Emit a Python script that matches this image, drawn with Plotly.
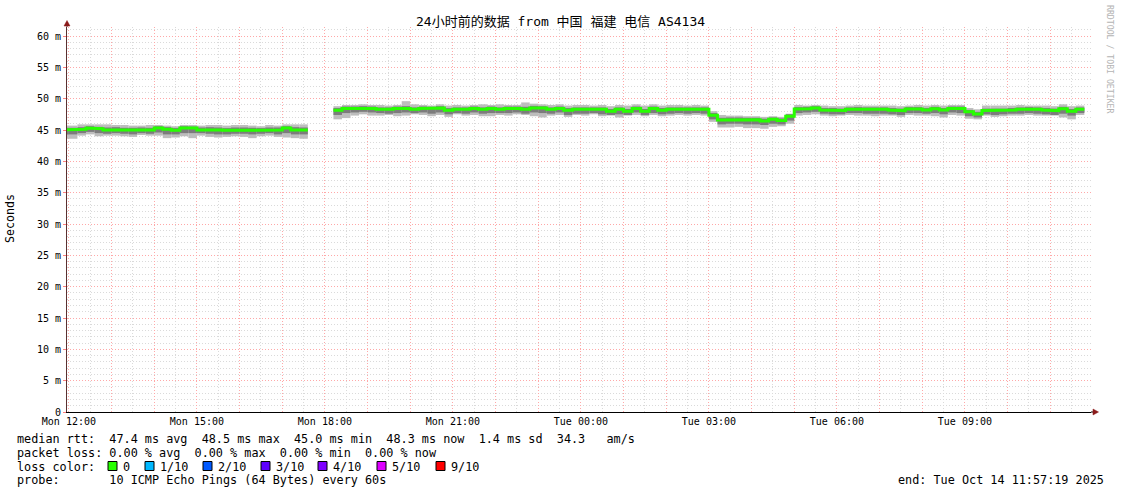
import plotly.graph_objects as go
from datetime import datetime, timedelta

# ---------------- data ----------------
title_text = "24小时前的数据 from 中国 福建 电信 AS4134"
range_start = "2025-10-13 11:57:19"
range_end = "2025-10-14 11:57:19"
first_step = "2025-10-13 11:48:00"
step_minutes = 12
N = None

# median RTT per 12-minute step (ms); first step starts Mon 11:48
median_rtt = [
    45.0,
    45.0, 45.1, 45.3, 45.2, 45.0, 45.1, 45.0, 45.0, 45.0, 45.0,
    45.3, 45.1, 44.95, 45.3, 45.3, 45.0, 45.1, 45.0, 44.95, 45.0,
    45.0, 45.0, 44.95, 45.0, 45.0, 45.3, 45.0, 45.0,
    N, N, N,
    48.15, 48.45, 48.45, 48.5, 48.45, 48.3, 48.3, 48.45, 48.45, 48.3,
    48.45, 48.45, 48.5, 48.15, 48.3, 48.3, 48.45, 48.3, 48.45, 48.3,
    48.45, 48.45, 48.3, 48.5, 48.5, 48.3, 48.45, 48.15, 48.3, 48.3,
    48.3, 48.3, 48.0, 48.3, 48.0, 48.45, 48.0, 48.45, 48.15, 48.3,
    48.3, 48.3, 48.3, 48.3,
    47.35, 46.6, 46.7, 46.7, 46.65, 46.65, 46.45, 46.7, 46.5, 47.2,
    48.35, 48.4, 48.5, 48.2, 48.2, 48.1, 48.3, 48.35, 48.3, 48.3,
    48.3, 48.2, 48.1, 48.35, 48.35, 48.2, 48.4, 48.2, 48.45, 48.45,
    47.9, 47.55, 48.1, 48.1, 48.1, 48.2, 48.3, 48.35, 48.3, 48.2,
    48.1, 48.4, 48.0, 48.3,
    N,
]

# outer smoke (slowest / fastest ping) per step
smoke_hi = [
    45.7,
    45.7, 45.9, 45.9, 45.9, 45.9, 45.8, 45.8, 45.7, 45.7, 45.8,
    45.8, 45.7, 45.6, 45.8, 45.8, 45.7, 45.8, 45.8, 45.7, 45.8,
    45.8, 45.7, 45.6, 45.8, 45.7, 45.9, 45.9, 45.9,
    N, N, N,
    48.8, 49.0, 49.0, 49.1, 49.0, 49.0, 48.9, 49.0, 49.6, 49.1,
    49.0, 48.9, 49.1, 48.9, 49.0, 48.9, 49.0, 49.1, 49.0, 49.1,
    49.0, 49.0, 49.4, 49.2, 49.1, 49.0, 49.1, 48.9, 49.0, 49.0,
    48.9, 49.0, 48.8, 49.0, 48.9, 49.1, 48.9, 49.1, 48.9, 49.0,
    49.0, 48.9, 49.0, 48.9,
    48.0, 47.4, 47.3, 47.3, 47.2, 47.2, 47.1, 47.2, 47.1, 47.6,
    49.0, 48.9, 49.0, 48.9, 48.8, 48.8, 48.9, 49.0, 48.9, 48.9,
    48.9, 48.9, 48.8, 48.9, 49.0, 48.9, 49.0, 48.9, 49.0, 49.0,
    48.5, 48.3, 48.9, 48.9, 48.9, 48.9, 49.0, 48.9, 48.9, 48.9,
    48.8, 49.1, 48.8, 48.9,
    N,
]
smoke_lo = [
    43.6,
    43.6, 44.1, 44.3, 44.0, 44.1, 44.1, 44.0, 43.9, 44.2, 44.1,
    44.1, 43.7, 43.8, 44.0, 43.7, 44.1, 43.9, 43.8, 43.9, 44.0,
    43.9, 43.7, 44.0, 44.1, 43.9, 43.8, 43.7, 43.6,
    N, N, N,
    46.7, 46.9, 47.3, 47.5, 47.3, 47.3, 47.4, 47.2, 47.3, 47.5,
    47.4, 47.2, 47.4, 47.1, 47.5, 47.3, 47.4, 47.2, 47.2, 47.4,
    47.3, 47.5, 47.4, 47.2, 47.0, 47.3, 47.4, 47.1, 47.4, 47.3,
    47.5, 47.2, 47.3, 47.0, 47.3, 47.4, 47.2, 47.4, 47.2, 47.3,
    47.4, 47.3, 47.4, 47.3,
    46.3, 45.4, 45.4, 45.5, 45.3, 45.3, 45.2, 45.5, 45.6, 46.0,
    47.3, 47.4, 47.5, 47.3, 47.2, 47.3, 47.4, 47.3, 47.3, 47.2,
    47.3, 47.3, 47.1, 47.4, 47.3, 47.3, 47.2, 47.0, 47.4, 47.3,
    46.8, 46.7, 47.3, 47.1, 47.2, 47.3, 47.3, 47.4, 47.3, 47.3,
    47.3, 47.0, 46.7, 47.4,
    N,
]
# inner smoke (middle pings) per step
mid_hi = [
    45.35,
    45.35, 45.45, 45.6, 45.5, 45.4, 45.45, 45.35, 45.35, 45.4, 45.35,
    45.6, 45.45, 45.3, 45.6, 45.55, 45.4, 45.45, 45.4, 45.3, 45.4,
    45.4, 45.35, 45.3, 45.4, 45.4, 45.6, 45.45, 45.4,
    N, N, N,
    48.5, 48.75, 48.75, 48.8, 48.75, 48.6, 48.6, 48.75, 48.8, 48.6,
    48.75, 48.7, 48.8, 48.5, 48.6, 48.6, 48.75, 48.6, 48.75, 48.6,
    48.75, 48.75, 48.7, 48.85, 48.8, 48.6, 48.75, 48.5, 48.6, 48.6,
    48.6, 48.6, 48.35, 48.6, 48.35, 48.75, 48.35, 48.75, 48.5, 48.6,
    48.6, 48.6, 48.6, 48.6,
    47.7, 46.95, 47.0, 47.0, 46.95, 46.95, 46.8, 47.0, 46.85, 47.5,
    48.65, 48.7, 48.8, 48.5, 48.5, 48.4, 48.6, 48.65, 48.6, 48.6,
    48.6, 48.5, 48.4, 48.65, 48.65, 48.5, 48.7, 48.5, 48.75, 48.75,
    48.2, 47.9, 48.4, 48.4, 48.4, 48.5, 48.6, 48.65, 48.6, 48.5,
    48.4, 48.7, 48.35, 48.6,
    N,
]
mid_lo = [
    44.3,
    44.3, 44.5, 44.7, 44.5, 44.4, 44.5, 44.4, 44.3, 44.5, 44.4,
    44.6, 44.3, 44.3, 44.5, 44.5, 44.5, 44.4, 44.3, 44.3, 44.4,
    44.4, 44.3, 44.4, 44.5, 44.3, 44.5, 44.3, 44.3,
    N, N, N,
    47.4, 47.7, 47.8, 47.9, 47.8, 47.7, 47.6, 47.7, 47.8, 47.7,
    47.8, 47.6, 47.8, 47.5, 47.7, 47.6, 47.8, 47.6, 47.7, 47.7,
    47.7, 47.8, 47.6, 47.8, 47.7, 47.6, 47.8, 47.4, 47.6, 47.6,
    47.7, 47.5, 47.4, 47.5, 47.4, 47.8, 47.4, 47.7, 47.5, 47.6,
    47.7, 47.6, 47.7, 47.6,
    46.7, 45.9, 46.0, 46.0, 45.9, 45.9, 45.8, 46.0, 45.9, 46.5,
    47.7, 47.8, 47.9, 47.6, 47.5, 47.5, 47.7, 47.7, 47.6, 47.6,
    47.6, 47.5, 47.4, 47.7, 47.7, 47.6, 47.7, 47.5, 47.8, 47.7,
    47.2, 47.0, 47.5, 47.4, 47.5, 47.6, 47.6, 47.7, 47.6, 47.5,
    47.4, 47.6, 47.3, 47.7,
    N,
]

y_tick_values = [0, 5, 10, 15, 20, 25, 30, 35, 40, 45, 50, 55, 60]
y_tick_labels = ["0", "5 m", "10 m", "15 m", "20 m", "25 m", "30 m", "35 m",
                 "40 m", "45 m", "50 m", "55 m", "60 m"]
x_label_hours = ["2025-10-13 12:00", "2025-10-13 15:00", "2025-10-13 18:00",
                 "2025-10-13 21:00", "2025-10-14 00:00", "2025-10-14 03:00",
                 "2025-10-14 06:00", "2025-10-14 09:00"]
x_label_text = ["Mon 12:00", "Mon 15:00", "Mon 18:00", "Mon 21:00",
                "Tue 00:00", "Tue 03:00", "Tue 06:00", "Tue 09:00"]

legend_rtt = "median rtt:  47.4 ms avg  48.5 ms max  45.0 ms min  48.3 ms now  1.4 ms sd  34.3   am/s"
legend_loss = "packet loss: 0.00 % avg  0.00 % max  0.00 % min  0.00 % now"
legend_color_head = "loss color:"
loss_labels = ["0", "1/10", "2/10", "3/10", "4/10", "5/10", "9/10"]
loss_colors = ["#26ff00", "#00b8ff", "#0059ff", "#5e00ff", "#7e00ff", "#dd00ff", "#ff0000"]
legend_probe = "probe:       10 ICMP Echo Pings (64 Bytes) every 60s"
legend_end = "end: Tue Oct 14 11:57:19 2025"
watermark = "RRDTOOL / TOBI OETIKER"
y_title = "Seconds"

# ---------------- geometry helpers ----------------
W, H = 1121, 494
PL, PR, PT, PB = 67, 1091, 27, 412   # plot area in pixels
PX_PER_MS = (PB - 36) / 60.0
Y_MAX = 60 + (36 - PT) / PX_PER_MS


def px(x):
    return (x - PL) / (PR - PL)


def py(y):
    return (PB - y) / (PB - PT)


MONO = "DejaVu Sans Mono, Noto Sans CJK SC, monospace"

t0 = datetime.strptime(first_step, "%Y-%m-%d %H:%M:%S")
step = timedelta(minutes=step_minutes)
step_starts = [t0 + i * step for i in range(len(median_rtt))]


def band(lo, hi, color):
    xs, bases, heights = [], [], []
    for t, a, b in zip(step_starts, lo, hi):
        if a is None or b is None:
            continue
        xs.append(t)
        bases.append(a)
        heights.append(b - a)
    return go.Bar(x=xs, y=heights, base=bases, width=step_minutes * 60 * 1000,
                  offset=0, marker=dict(color=color, line=dict(width=0)),
                  hoverinfo="skip", showlegend=False)


fig = go.Figure()
fig.add_trace(band(smoke_lo, smoke_hi, "#bdbdbd"))
fig.add_trace(band(mid_lo, mid_hi, "#7c7c7c"))

mx, my = [], []
for i, v in enumerate(median_rtt):
    if v is None:
        if mx and mx[-1] is not None:
            mx.append(None)
            my.append(None)
        continue
    mx += [step_starts[i], step_starts[i] + step]
    my += [v, v]
fig.add_trace(go.Scatter(x=mx, y=my, mode="lines", line=dict(color=loss_colors[0], width=3),
                         connectgaps=False, hoverinfo="skip", showlegend=False))

# axes ticks
hour0 = datetime(2025, 10, 13, 12, 0)
hour_vals = [hour0 + timedelta(hours=h) for h in range(24)]
lab_map = {datetime.strptime(a, "%Y-%m-%d %H:%M"): b for a, b in zip(x_label_hours, x_label_text)}
hour_text = [lab_map.get(h, "") for h in hour_vals]
half_vals = [hour0 + timedelta(minutes=30 + 60 * h) for h in range(24)]

MAJ = "#ffa8a8"
MIN = "#dadada"
DASH = "1px,2px"

fig.update_layout(
    width=W, height=H,
    margin=dict(l=PL, r=W - PR, t=PT, b=H - PB, pad=0),
    paper_bgcolor="white", plot_bgcolor="white",
    barmode="overlay", showlegend=False,
    font=dict(family=MONO, color="black", size=10),
    xaxis=dict(
        type="date", range=[range_start, range_end],
        tickmode="array", tickvals=hour_vals, ticktext=hour_text,
        showgrid=True, gridcolor=MAJ, griddash=DASH, gridwidth=1,
        minor=dict(tickmode="array", tickvals=half_vals, showgrid=True,
                   gridcolor=MIN, griddash=DASH, ticks=""),
        showline=True, linecolor="black", linewidth=1, zeroline=False,
        ticks="",
        tickfont=dict(family=MONO, size=10, color="black"),
    ),
    yaxis=dict(
        range=[0, Y_MAX], tickmode="array", tickvals=y_tick_values, ticktext=y_tick_labels,
        showgrid=True, gridcolor=MAJ, griddash=DASH, gridwidth=1,
        minor=dict(dtick=1, tick0=0, showgrid=True, gridcolor=MIN, griddash=DASH, ticks=""),
        showline=True, linecolor="#5a3030", linewidth=1, zeroline=False,
        ticks="outside", ticklen=3, tickcolor="#ff8080",
        tickfont=dict(family=MONO, size=10, color="black"),
    ),
)

ann = []
ann.append(dict(x=px(560.5), y=py(21), xref="paper", yref="paper", text=title_text,
                showarrow=False, xanchor="center", yanchor="middle",
                font=dict(family=MONO, size=13, color="black")))
ann.append(dict(x=px(10), y=py(219), xref="paper", yref="paper", text=y_title, textangle=-90,
                showarrow=False, xanchor="center", yanchor="middle",
                font=dict(family=MONO, size=11.6, color="black")))
ann.append(dict(x=px(1110), y=py(59), xref="paper", yref="paper", text=watermark, textangle=90,
                showarrow=False, xanchor="center", yanchor="middle",
                font=dict(family=MONO, size=8.2, color="#b4b4b4")))

LEG = dict(family=MONO, size=11.8, color="black")


def nb(s):
    return s.replace(" ", "\u00a0")


for txt, yc in [(legend_rtt, 438.5), (legend_loss, 452.5), (legend_color_head, 466.5), (legend_probe, 480.5)]:
    ann.append(dict(x=px(15), y=py(yc), xref="paper", yref="paper", text=nb(txt),
                    showarrow=False, xanchor="left", yanchor="middle", font=LEG))
ann.append(dict(x=px(1106), y=py(480.5), xref="paper", yref="paper", text=nb(legend_end),
                showarrow=False, xanchor="right", yanchor="middle", font=LEG))

box_x = [108, 145, 203, 261, 318, 377, 436]
shapes = []
for bx, lab, col in zip(box_x, loss_labels, loss_colors):
    shapes.append(dict(type="rect", xref="paper", yref="paper",
                       x0=px(bx), x1=px(bx + 9), y0=py(470.5), y1=py(461.5),
                       fillcolor=col, line=dict(color="black", width=1)))
    ann.append(dict(x=px(bx + 13), y=py(466.5), xref="paper", yref="paper", text=nb(lab),
                    showarrow=False, xanchor="left", yanchor="middle", font=LEG))

# axis extensions and arrows
ARROW = "#8b1a1a"
shapes.append(dict(type="line", xref="paper", yref="paper", x0=px(67), x1=px(67),
                   y0=py(PT), y1=py(23), line=dict(color="#5a3030", width=1)))
shapes.append(dict(type="line", xref="paper", yref="paper", x0=px(PR), x1=px(1095),
                   y0=py(412), y1=py(412), line=dict(color="black", width=1)))
shapes.append(dict(type="path", xref="paper", yref="paper",
                   path=f"M {px(64)},{py(26)} L {px(70)},{py(26)} L {px(67)},{py(20.5)} Z",
                   fillcolor=ARROW, line=dict(color=ARROW, width=0.5)))
shapes.append(dict(type="path", xref="paper", yref="paper",
                   path=f"M {px(1093)},{py(409)} L {px(1093)},{py(415)} L {px(1098.5)},{py(412)} Z",
                   fillcolor=ARROW, line=dict(color=ARROW, width=0.5)))

fig.update_layout(annotations=ann, shapes=shapes)
fig.write_html("out.html", config={"displayModeBar": False},
               post_script="document.body.style.margin='0';document.body.style.overflow='hidden';")
